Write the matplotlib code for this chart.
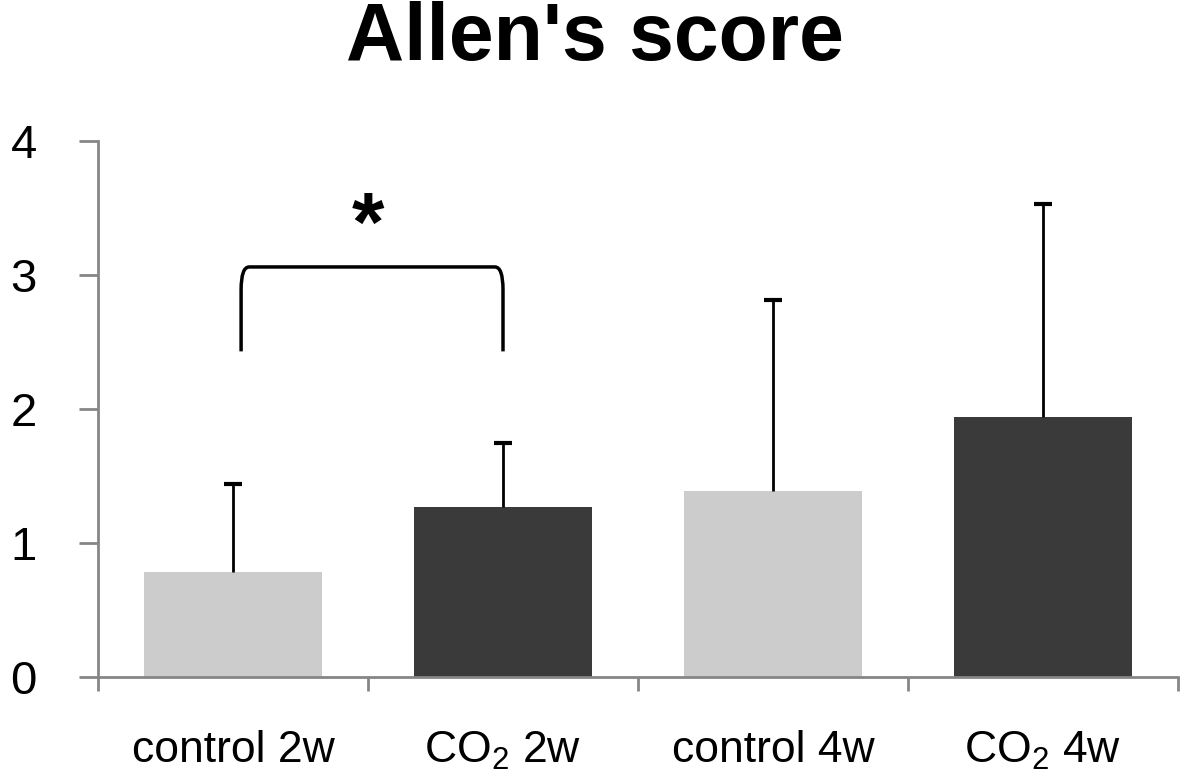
import matplotlib
matplotlib.use('Agg')
import matplotlib.pyplot as plt
from matplotlib.path import Path
from matplotlib.patches import PathPatch

plt.rcParams['font.family'] = ['Liberation Sans', 'DejaVu Sans']
plt.rcParams['mathtext.fontset'] = 'custom'
plt.rcParams['mathtext.rm'] = 'Liberation Sans'
plt.rcParams['mathtext.it'] = 'Liberation Sans:italic'

# 数据
groups = ['control 2w', 'CO$_2$ 2w', 'control 4w', 'CO$_2$ 4w']
means = [0.78, 1.27, 1.39, 1.94]
sds = [0.66, 0.48, 1.42, 1.59]
colors = ['#cccccc', '#3a3a3a', '#cccccc', '#3a3a3a']
yticks = [0, 1, 2, 3, 4]

# 显著性标注 (control 2w vs CO2 2w)
sig_pair = (0, 1)
sig_label = '*'
sig_low = 2.43
sig_high = 3.06

fig = plt.figure(figsize=(11.81, 7.73), dpi=100)
ax = fig.add_axes([98/1181, 96/773, 1080/1181, 536/773])

x = list(range(len(groups)))
tops = [m + s for m, s in zip(means, sds)]
ax.bar(x, means, width=0.66, color=colors, zorder=2)
# 只画上方误差线
ax.vlines(x, means, tops, color='black', linewidth=2, zorder=3)
ax.plot(x, tops, linestyle='none', marker='_', markersize=13, mew=3,
        color='black', zorder=3)

ax.set_xlim(-0.5, len(groups) - 0.5)
ax.set_ylim(0, 4)
ax.set_yticks(yticks)
ax.set_yticklabels([str(v) for v in yticks], fontsize=34)
ax.set_xticks([i - 0.5 for i in range(len(groups) + 1)])
ax.set_xticklabels([])
ax.set_xticks(x, minor=True)
ax.set_xticklabels(groups, minor=True, fontsize=32)
ax.tick_params(axis='x', which='minor', length=0, pad=38)
ax.tick_params(axis='x', which='major', length=10, width=2, color='#868686')
ax.tick_params(axis='y', length=14, width=2, color='#868686', pad=30)

for side in ['top', 'right']:
    ax.spines[side].set_visible(False)
for side in ['left', 'bottom']:
    ax.spines[side].set_color('#868686')
    ax.spines[side].set_linewidth(2)

# 括号
x0 = sig_pair[0] + 0.03
x1 = sig_pair[1]
dx = 0.03
dy = 0.17
verts = [(x0, sig_low), (x0, sig_high - dy), (x0, sig_high), (x0 + dx, sig_high),
         (x1 - dx, sig_high), (x1, sig_high), (x1, sig_high - dy), (x1, sig_low)]
codes = [Path.MOVETO, Path.LINETO, Path.CURVE3, Path.CURVE3,
         Path.LINETO, Path.CURVE3, Path.CURVE3, Path.LINETO]
ax.add_patch(PathPatch(Path(verts, codes), facecolor='none', edgecolor='black',
                       linewidth=2.5, zorder=4))
ax.text((sig_pair[0] + sig_pair[1]) / 2, sig_high + 0.12, sig_label,
        ha='center', va='baseline', fontsize=60, fontweight='bold')

fig.text(0.504, 0.922, "Allen's score", ha='center', va='baseline',
         fontsize=58, fontweight='bold')

fig.savefig('out.png', dpi=100)
